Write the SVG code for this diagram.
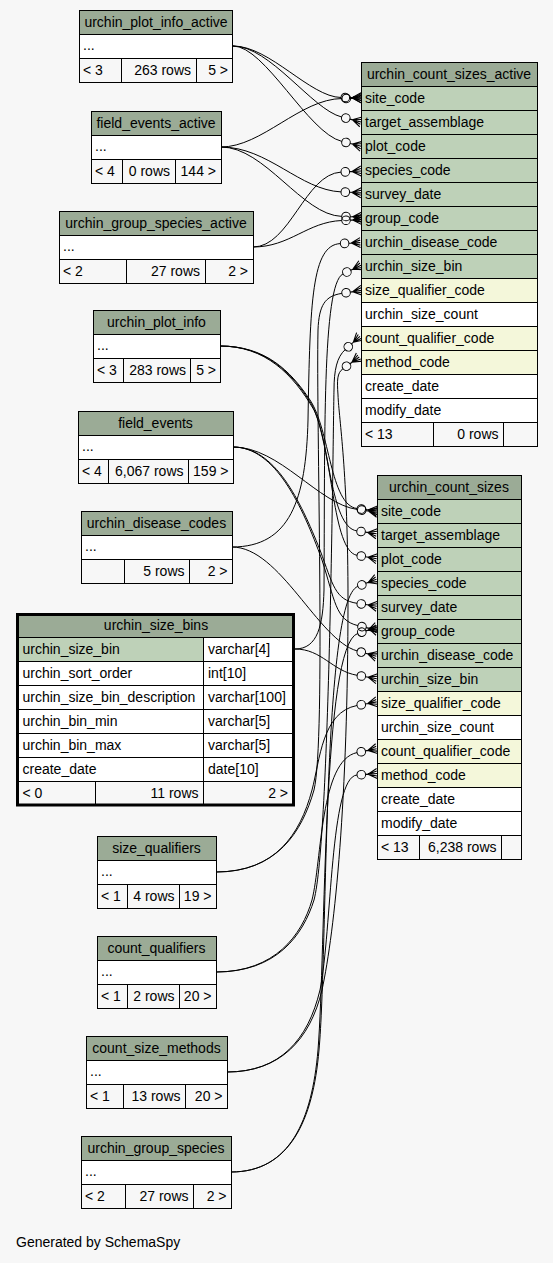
<svg xmlns="http://www.w3.org/2000/svg" width="553" height="1263" viewBox="0 0 553 1263">
<style>
.hd{fill:#9bab96;stroke:#000}
.pk{fill:#bed1b8;stroke:#000}
.fk{fill:#f4f7da;stroke:#000}
.wt{fill:#fff;stroke:#000}
.ft{fill:#f7f7f7;stroke:#000}
text{font-family:"Liberation Sans",Arial,sans-serif;font-size:14px;fill:#000}
.c{text-anchor:middle}
.r{text-anchor:end}
.e{fill:none;stroke:#000;stroke-width:1;marker-end:url(#cf)}
</style>
<defs>
<marker id="cf" markerUnits="userSpaceOnUse" markerWidth="24" markerHeight="14" viewBox="0 -7 24 14" refX="0" refY="0" orient="auto" overflow="visible">
<circle cx="4.3" cy="0" r="4.3" fill="none" stroke="#000"/>
<path d="M8.6,0H20M11,0L20,-5M11,0L20,5M11,0L20,-2.5M11,0L20,2.5" fill="none" stroke="#000" stroke-width="1.1"/>
</marker>
</defs>
<rect width="553" height="1263" fill="#f7f7f7"/>

<g id="connectors">
<path class="e" d="M233,46 C270,46 310,97 341,97.5"/>
<path class="e" d="M233,46 C270,46 312,109.5 341.6,117"/>
<path class="e" d="M233,46 C265,46 308,133 341.8,141.4"/>
<path class="e" d="M221,147 C262,147 300,99 342,98.5"/>
<path class="e" d="M221,147 C268,147 300,190 341,191.9"/>
<path class="e" d="M221,147 C265,147 302,215 341.7,216.4"/>
<path class="e" d="M253,247 C290,247 305,174 341,172.1"/>
<path class="e" d="M253,247 C290,247 307,222 341.7,220.5"/>
<path class="e" d="M232,547 C290,547 306,500 308,420 C310,300 312,245 340.3,243.6"/>
<path class="e" d="M295,649 C318,649 323,625 324,590 C325,440 322,284 343,273.9"/>
<path class="e" d="M216,872 C277,872 302,832 314,790 C326,740 316,420 318,330 C319,305 325,296 341.8,293.4"/>
<path class="e" d="M216,972 C277,972 303,935 314,900 C330,840 333,430 334,390 C334,370 337,357 345.1,349.7"/>
<path class="e" d="M227,1072 C280,1072 310,1040 322,990 C335,930 348,800 348,600 C348,470 339,420 338,395 C337,380 337,373 343,368.7"/>
<path class="e" d="M220,346 C265,346 290,370 310,400 C330,430 330,505 357,508.5"/>
<path class="e" d="M220,346 C265,346 292,372 312,405 C330,440 330,527 356.8,530.9"/>
<path class="e" d="M220,346 C265,346 293,374 314,410 C333,450 332,551 357,555.3"/>
<path class="e" d="M233,447 C280,447 318,504 357.5,509.5"/>
<path class="e" d="M233,447 C275,447 300,500 320,550 C333,585 335,600 357,603.3"/>
<path class="e" d="M233,447 C275,447 302,505 322,560 C335,600 335,620 357.8,625.6"/>
<path class="e" d="M231,1172 C290,1172 313,1120 319,1050 C328,950 322,600 357.8,586.4"/>
<path class="e" d="M231,1172 C290,1172 312,1120 318,1050 C326,950 322,645 357.7,633.5"/>
<path class="e" d="M232,547 C280,547 318,640 357.1,650.9"/>
<path class="e" d="M295,649 C322,649 332,671 357.1,675.3"/>
<path class="e" d="M216,872 C275,872 300,835 312,790 C320,760 322,712 357,705.5"/>
<path class="e" d="M216,972 C275,972 302,935 312,900 C322,860 320,760 357,752.6"/>
<path class="e" d="M227,1072 C280,1072 308,1040 320,990 C332,930 330,777 357,775"/>
</g>

<g id="urchin_plot_info_active">
<rect class="hd" x="79.5" y="10.5" width="153" height="24"/>
<rect class="wt" x="79.5" y="34.5" width="153" height="24"/>
<rect class="ft" x="79.5" y="58.5" width="42" height="24"/>
<rect class="ft" x="121.5" y="58.5" width="75" height="24"/>
<rect class="ft" x="196.5" y="58.5" width="36" height="24"/>
<text class="c" x="156" y="27">urchin_plot_info_active</text>
<text x="83" y="50">...</text>
<text x="83" y="75">&lt; 3</text>
<text class="r" x="191" y="75">263 rows</text>
<text class="r" x="228" y="75">5 &gt;</text>
</g>

<g id="field_events_active">
<rect class="hd" x="91.5" y="111.5" width="130" height="24"/>
<rect class="wt" x="91.5" y="135.5" width="130" height="24"/>
<rect class="ft" x="91.5" y="159.5" width="31" height="24"/>
<rect class="ft" x="122.5" y="159.5" width="53" height="24"/>
<rect class="ft" x="175.5" y="159.5" width="46" height="24"/>
<text class="c" x="156" y="128">field_events_active</text>
<text x="95" y="151">...</text>
<text x="95" y="176">&lt; 4</text>
<text class="r" x="170" y="176">0 rows</text>
<text class="r" x="216" y="176">144 &gt;</text>
</g>

<g id="urchin_group_species_active">
<rect class="hd" x="59.5" y="211.5" width="194" height="24"/>
<rect class="wt" x="59.5" y="235.5" width="194" height="24"/>
<rect class="ft" x="59.5" y="259.5" width="67" height="24"/>
<rect class="ft" x="126.5" y="259.5" width="79" height="24"/>
<rect class="ft" x="205.5" y="259.5" width="48" height="24"/>
<text class="c" x="156" y="228">urchin_group_species_active</text>
<text x="63" y="251">...</text>
<text x="63" y="276">&lt; 2</text>
<text class="r" x="200" y="276">27 rows</text>
<text class="r" x="248" y="276">2 &gt;</text>
</g>

<g id="urchin_plot_info">
<rect class="hd" x="93.5" y="310.5" width="127" height="24"/>
<rect class="wt" x="93.5" y="334.5" width="127" height="24"/>
<rect class="ft" x="93.5" y="358.5" width="30" height="24"/>
<rect class="ft" x="123.5" y="358.5" width="67" height="24"/>
<rect class="ft" x="190.5" y="358.5" width="30" height="24"/>
<text class="c" x="156.5" y="327">urchin_plot_info</text>
<text x="97" y="350">...</text>
<text x="97" y="375">&lt; 3</text>
<text class="r" x="186" y="375">283 rows</text>
<text class="r" x="216" y="375">5 &gt;</text>
</g>

<g id="field_events">
<rect class="hd" x="78.5" y="411.5" width="155" height="24"/>
<rect class="wt" x="78.5" y="435.5" width="155" height="24"/>
<rect class="ft" x="78.5" y="459.5" width="30" height="24"/>
<rect class="ft" x="108.5" y="459.5" width="80" height="24"/>
<rect class="ft" x="188.5" y="459.5" width="45" height="24"/>
<text class="c" x="155.5" y="428">field_events</text>
<text x="82" y="451">...</text>
<text x="82" y="476">&lt; 4</text>
<text class="r" x="183.5" y="476">6,067 rows</text>
<text class="r" x="228.5" y="476">159 &gt;</text>
</g>

<g id="urchin_disease_codes">
<rect class="hd" x="81.5" y="511.5" width="151" height="24"/>
<rect class="wt" x="81.5" y="535.5" width="151" height="24"/>
<rect class="ft" x="81.5" y="559.5" width="43" height="24"/>
<rect class="ft" x="124.5" y="559.5" width="65" height="24"/>
<rect class="ft" x="189.5" y="559.5" width="43" height="24"/>
<text class="c" x="156.5" y="528">urchin_disease_codes</text>
<text x="85" y="551">...</text>
<text class="r" x="184.5" y="576">5 rows</text>
<text class="r" x="227.5" y="576">2 &gt;</text>
</g>

<g id="urchin_size_bins">
<rect class="hd" x="18.5" y="615.5" width="275" height="22"/>
<rect class="pk" x="18.5" y="637.5" width="185" height="24"/>
<rect class="wt" x="203.5" y="637.5" width="90" height="24"/>
<rect class="wt" x="18.5" y="661.5" width="185" height="24"/>
<rect class="wt" x="203.5" y="661.5" width="90" height="24"/>
<rect class="wt" x="18.5" y="685.5" width="185" height="24"/>
<rect class="wt" x="203.5" y="685.5" width="90" height="24"/>
<rect class="wt" x="18.5" y="709.5" width="185" height="24"/>
<rect class="wt" x="203.5" y="709.5" width="90" height="24"/>
<rect class="wt" x="18.5" y="733.5" width="185" height="24"/>
<rect class="wt" x="203.5" y="733.5" width="90" height="24"/>
<rect class="wt" x="18.5" y="757.5" width="185" height="24"/>
<rect class="wt" x="203.5" y="757.5" width="90" height="24"/>
<rect class="ft" x="18.5" y="781.5" width="77" height="23"/>
<rect class="ft" x="95.5" y="781.5" width="108" height="23"/>
<rect class="ft" x="203.5" y="781.5" width="90" height="23"/>
<rect x="17.5" y="614.5" width="276" height="190.5" fill="none" stroke="#000" stroke-width="3"/>
<text class="c" x="156" y="630">urchin_size_bins</text>
<text x="22.5" y="654">urchin_size_bin</text><text x="208" y="654">varchar[4]</text>
<text x="22.5" y="678">urchin_sort_order</text><text x="208" y="678">int[10]</text>
<text x="22.5" y="702">urchin_size_bin_description</text><text x="208" y="702">varchar[100]</text>
<text x="22.5" y="726">urchin_bin_min</text><text x="208" y="726">varchar[5]</text>
<text x="22.5" y="750">urchin_bin_max</text><text x="208" y="750">varchar[5]</text>
<text x="22.5" y="774">create_date</text><text x="208" y="774">date[10]</text>
<text x="22.5" y="798">&lt; 0</text>
<text class="r" x="198.5" y="798">11 rows</text>
<text class="r" x="288" y="798">2 &gt;</text>
</g>

<g id="size_qualifiers">
<rect class="hd" x="97.5" y="836.5" width="119" height="24"/>
<rect class="wt" x="97.5" y="860.5" width="119" height="24"/>
<rect class="ft" x="97.5" y="884.5" width="30" height="24"/>
<rect class="ft" x="127.5" y="884.5" width="52" height="24"/>
<rect class="ft" x="179.5" y="884.5" width="37" height="24"/>
<text class="c" x="156.5" y="853">size_qualifiers</text>
<text x="101" y="876">...</text>
<text x="101" y="901">&lt; 1</text>
<text class="r" x="174.5" y="901">4 rows</text>
<text class="r" x="211.5" y="901">19 &gt;</text>
</g>

<g id="count_qualifiers">
<rect class="hd" x="97.5" y="936.5" width="119" height="24"/>
<rect class="wt" x="97.5" y="960.5" width="119" height="24"/>
<rect class="ft" x="97.5" y="984.5" width="30" height="24"/>
<rect class="ft" x="127.5" y="984.5" width="52" height="24"/>
<rect class="ft" x="179.5" y="984.5" width="37" height="24"/>
<text class="c" x="156.5" y="953">count_qualifiers</text>
<text x="101" y="976">...</text>
<text x="101" y="1001">&lt; 1</text>
<text class="r" x="174.5" y="1001">2 rows</text>
<text class="r" x="211.5" y="1001">20 &gt;</text>
</g>

<g id="count_size_methods">
<rect class="hd" x="86.5" y="1036.5" width="141" height="24"/>
<rect class="wt" x="86.5" y="1060.5" width="141" height="24"/>
<rect class="ft" x="86.5" y="1084.5" width="37" height="24"/>
<rect class="ft" x="123.5" y="1084.5" width="62" height="24"/>
<rect class="ft" x="185.5" y="1084.5" width="42" height="24"/>
<text class="c" x="156.5" y="1053">count_size_methods</text>
<text x="90" y="1076">...</text>
<text x="90" y="1101">&lt; 1</text>
<text class="r" x="180.5" y="1101">13 rows</text>
<text class="r" x="222.5" y="1101">20 &gt;</text>
</g>

<g id="urchin_group_species">
<rect class="hd" x="81.5" y="1136.5" width="150" height="24"/>
<rect class="wt" x="81.5" y="1160.5" width="150" height="24"/>
<rect class="ft" x="81.5" y="1184.5" width="44" height="24"/>
<rect class="ft" x="125.5" y="1184.5" width="68" height="24"/>
<rect class="ft" x="193.5" y="1184.5" width="38" height="24"/>
<text class="c" x="156" y="1153">urchin_group_species</text>
<text x="85" y="1176">...</text>
<text x="85" y="1201">&lt; 2</text>
<text class="r" x="188.5" y="1201">27 rows</text>
<text class="r" x="226.5" y="1201">2 &gt;</text>
</g>

<g id="urchin_count_sizes_active">
<rect class="hd" x="361.5" y="62.5" width="176" height="24"/>
<rect class="pk" x="361.5" y="86.5" width="176" height="24"/>
<rect class="pk" x="361.5" y="110.5" width="176" height="24"/>
<rect class="pk" x="361.5" y="134.5" width="176" height="24"/>
<rect class="pk" x="361.5" y="158.5" width="176" height="24"/>
<rect class="pk" x="361.5" y="182.5" width="176" height="24"/>
<rect class="pk" x="361.5" y="206.5" width="176" height="24"/>
<rect class="pk" x="361.5" y="230.5" width="176" height="24"/>
<rect class="pk" x="361.5" y="254.5" width="176" height="24"/>
<rect class="fk" x="361.5" y="278.5" width="176" height="24"/>
<rect class="wt" x="361.5" y="302.5" width="176" height="24"/>
<rect class="fk" x="361.5" y="326.5" width="176" height="24"/>
<rect class="fk" x="361.5" y="350.5" width="176" height="24"/>
<rect class="wt" x="361.5" y="374.5" width="176" height="24"/>
<rect class="wt" x="361.5" y="398.5" width="176" height="24"/>
<rect class="ft" x="361.5" y="422.5" width="72" height="24"/>
<rect class="ft" x="433.5" y="422.5" width="70" height="24"/>
<rect class="ft" x="503.5" y="422.5" width="34" height="24"/>
<text class="c" x="449" y="79">urchin_count_sizes_active</text>
<text x="365" y="103">site_code</text>
<text x="365" y="127">target_assemblage</text>
<text x="365" y="151">plot_code</text>
<text x="365" y="175">species_code</text>
<text x="365" y="199">survey_date</text>
<text x="365" y="223">group_code</text>
<text x="365" y="247">urchin_disease_code</text>
<text x="365" y="271">urchin_size_bin</text>
<text x="365" y="295">size_qualifier_code</text>
<text x="365" y="319">urchin_size_count</text>
<text x="365" y="343">count_qualifier_code</text>
<text x="365" y="367">method_code</text>
<text x="365" y="391">create_date</text>
<text x="365" y="415">modify_date</text>
<text x="365" y="439">&lt; 13</text>
<text class="r" x="498.5" y="439">0 rows</text>
</g>

<g id="urchin_count_sizes">
<rect class="hd" x="377.5" y="475.5" width="144" height="24"/>
<rect class="pk" x="377.5" y="499.5" width="144" height="24"/>
<rect class="pk" x="377.5" y="523.5" width="144" height="24"/>
<rect class="pk" x="377.5" y="547.5" width="144" height="24"/>
<rect class="pk" x="377.5" y="571.5" width="144" height="24"/>
<rect class="pk" x="377.5" y="595.5" width="144" height="24"/>
<rect class="pk" x="377.5" y="619.5" width="144" height="24"/>
<rect class="pk" x="377.5" y="643.5" width="144" height="24"/>
<rect class="pk" x="377.5" y="667.5" width="144" height="24"/>
<rect class="fk" x="377.5" y="691.5" width="144" height="24"/>
<rect class="wt" x="377.5" y="715.5" width="144" height="24"/>
<rect class="fk" x="377.5" y="739.5" width="144" height="24"/>
<rect class="fk" x="377.5" y="763.5" width="144" height="24"/>
<rect class="wt" x="377.5" y="787.5" width="144" height="24"/>
<rect class="wt" x="377.5" y="811.5" width="144" height="24"/>
<rect class="ft" x="377.5" y="835.5" width="42" height="24"/>
<rect class="ft" x="419.5" y="835.5" width="82" height="24"/>
<rect class="ft" x="501.5" y="835.5" width="20" height="24"/>
<text class="c" x="449" y="492">urchin_count_sizes</text>
<text x="381" y="516">site_code</text>
<text x="381" y="540">target_assemblage</text>
<text x="381" y="564">plot_code</text>
<text x="381" y="588">species_code</text>
<text x="381" y="612">survey_date</text>
<text x="381" y="636">group_code</text>
<text x="381" y="660">urchin_disease_code</text>
<text x="381" y="684">urchin_size_bin</text>
<text x="381" y="708">size_qualifier_code</text>
<text x="381" y="732">urchin_size_count</text>
<text x="381" y="756">count_qualifier_code</text>
<text x="381" y="780">method_code</text>
<text x="381" y="804">create_date</text>
<text x="381" y="828">modify_date</text>
<text x="381" y="852">&lt; 13</text>
<text class="r" x="496.5" y="852">6,238 rows</text>
</g>

<text x="16" y="1247">Generated by SchemaSpy</text>
</svg>
